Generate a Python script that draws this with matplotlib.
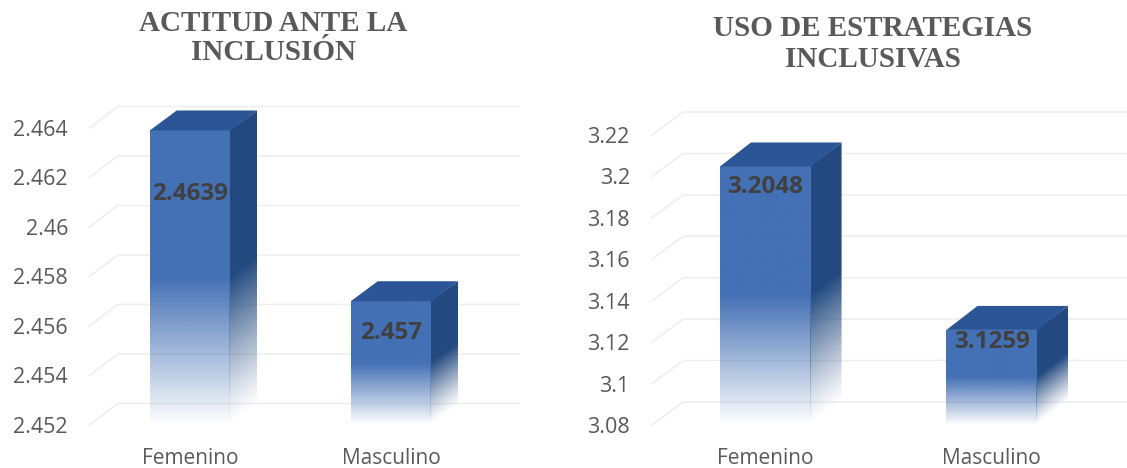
import numpy as np
import matplotlib
matplotlib.use("Agg")
from matplotlib.pyplot import figure, rcParams
from matplotlib.patches import Polygon

W, H = 1127, 468

categories = ["Femenino", "Masculino"]

actitud_title = "ACTITUD ANTE LA\nINCLUSIÓN"
actitud_values = [2.4639, 2.457]
actitud_ticks = [2.452, 2.454, 2.456, 2.458, 2.46, 2.462, 2.464]
actitud_ticklabels = ["2.452", "2.454", "2.456", "2.458", "2.46", "2.462", "2.464"]

estrategias_title = "USO DE ESTRATEGIAS\nINCLUSIVAS"
estrategias_values = [3.2048, 3.1259]
estrategias_ticks = [3.08, 3.1, 3.12, 3.14, 3.16, 3.18, 3.2, 3.22]
estrategias_ticklabels = ["3.08", "3.1", "3.12", "3.14", "3.16", "3.18", "3.2", "3.22"]

front_col = (0x44 / 255, 0x70 / 255, 0xB5 / 255)
side_col = (0x23 / 255, 0x4A / 255, 0x80 / 255)
top_col = "#2B5596"
grid_col = "#EEEEEE"
tick_col = "#595959"
label_col = "#404040"
title_col = "#595959"

rcParams["font.family"] = ["Open Sans", "DejaVu Sans"]


def fade_image(ax, x0, x1, base, top, colour, alpha_fn, clip):
    # rgba image, alpha worked out per pixel so the bar fades out to white
    xs = np.linspace(0, 1, 60)
    ys = np.linspace(top, base, 300)
    xx, yy = np.meshgrid(xs, ys)
    rgba = np.zeros(xx.shape + (4,))
    rgba[..., :3] = colour
    rgba[..., 3] = alpha_fn(xx, yy)
    im = ax.imshow(rgba, extent=(x0, x1, base, top), aspect="auto", zorder=3,
                   interpolation="bilinear")
    # the depth part sticks out above the axes, so no axes clipping here
    im.set_clip_box(ax.figure.bbox)
    im.set_clip_path(clip)


def bar_3d(ax, x, value, base, mid, width, dx, dy):
    x0, x1 = x - width / 2, x + width / 2

    def ramp(y):
        return np.clip((y - base) / (mid - base), 0, 1)

    # side face first, the fade runs along the depth as well
    side = Polygon([(x1 - 0.004, base), (x1 - 0.004, value), (x1 + dx, value + dy), (x1 + dx, base + dy)],
                   transform=ax.transData)
    fade_image(ax, x1 - 0.004, x1 + dx, base, value + dy, side_col,
               lambda xx, yy: ramp(yy - dy * xx) ** 1.15, side)

    # front face
    fade_image(ax, x0, x1, base, value, front_col, lambda xx, yy: ramp(yy),
               Polygon([(x0, base), (x0, value), (x1, value), (x1, base)],
                       transform=ax.transData))

    # top face
    ax.add_patch(Polygon([(x0, value), (x1, value), (x1 + dx, value + dy), (x0 + dx, value + dy)],
                         facecolor=top_col, edgecolor="none", zorder=4, clip_on=False))


def chart_3d(fig, box, title, title_xy, title_ls, values, ticks, ticklabels, offsets, bar_dx, grid_dx, depth_px, grid_px, pad):
    left, right, y_top, y_bottom = box
    ax = fig.add_axes([left / W, 1 - y_bottom / H, (right - left) / W, (y_bottom - y_top) / H])
    per_px = (ticks[-1] - ticks[0]) / (y_bottom - y_top)

    # walls and floor lines
    grid_dy = grid_px * per_px
    for t in ticks:
        ax.plot([0, grid_dx, 2 + grid_dx], [t, t + grid_dy, t + grid_dy],
                color=grid_col, lw=1.1, zorder=1, clip_on=False)

    mids = [ticks[0] + (v - ticks[0]) * 0.5 for v in values]
    xpos = [0.5, 1.5]
    for x, v, m, off in zip(xpos, values, mids, offsets):
        bar_3d(ax, x, v, ticks[0], m, 0.4, bar_dx, depth_px * per_px)
        ax.annotate(str(v), (x, v), xytext=(0, -off * 0.72), textcoords="offset points",
                    ha="center", va="center", fontsize=17.5, fontweight="bold",
                    color=label_col, zorder=5)

    ax.set_xlim(0, 2)
    ax.set_ylim(ticks[0], ticks[-1])
    ax.set_xticks(xpos)
    ax.set_xticklabels(categories)
    ax.set_yticks(ticks)
    ax.set_yticklabels(ticklabels)
    ax.tick_params(axis="y", length=0, pad=pad, labelsize=15.5, labelcolor=tick_col)
    ax.tick_params(axis="x", length=0, pad=16.5, labelsize=15, labelcolor=tick_col)
    for s in ax.spines.values():
        s.set_visible(False)
    ax.patch.set_alpha(0)

    fig.text(title_xy[0] / W, 1 - title_xy[1] / H, title, ha="center", va="center",
             family="Liberation Serif", fontweight="bold", fontsize=21,
             color=title_col, linespacing=title_ls)


def main():
    fig = figure(figsize=(W / 100, H / 100), dpi=100, facecolor="white")

    chart_3d(fig, (89.5, 491.5, 128, 425), actitud_title, (273, 38), 1.13,
             actitud_values, actitud_ticks, actitud_ticklabels,
             [64, 32], 0.134, 0.14, 20, 21.5, 15.5)
    chart_3d(fig, (652, 1105, 135, 425), estrategias_title, (873, 44), 1.22,
             estrategias_values, estrategias_ticks, estrategias_ticklabels,
             [21, 12], 0.137, 0.137, 24, 23, 16)

    fig.savefig("out.png", dpi=100)


if __name__ == "__main__":
    main()
